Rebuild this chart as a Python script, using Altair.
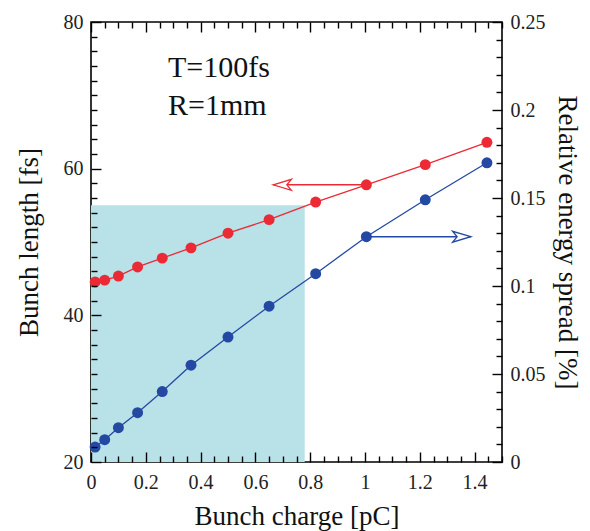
import altair as alt
import pandas as pd

# ---- data ----
charge_pc = [0.015, 0.05, 0.10, 0.17, 0.26, 0.365, 0.50, 0.65, 0.82, 1.005, 1.22, 1.445]
length_fs = [44.55, 44.8, 45.35, 46.6, 47.8, 49.2, 51.2, 53.05, 55.45, 57.8, 60.55, 63.6]
spread_pct = [0.0085, 0.0127, 0.0195, 0.028, 0.040, 0.055, 0.071, 0.0885, 0.107, 0.128, 0.149, 0.170]

shade_x = [0.0, 0.78]
shade_y = [20, 55]

red_arrow_x = [1.005, 0.665]
red_arrow_y = 57.8
blue_arrow_x = [1.005, 1.386]
blue_arrow_y = 0.128

note_labels = ["T=100fs", "R=1mm"]
note_x = [0.281, 0.281]
note_y = [73.7, 68.6]

x_major_ticks = [0, 0.2, 0.4, 0.6, 0.8, 1.0, 1.2, 1.4]
x_minor_ticks = [round(i * 0.05, 2) for i in range(31) if i % 4 != 0]
yl_major_ticks = [20, 40, 60, 80]
yl_minor_ticks = [v for v in range(22, 80, 2) if v % 20 != 0]
yr_major_ticks = [0, 0.05, 0.1, 0.15, 0.2, 0.25]
yr_minor_ticks = [round(i * 0.01, 2) for i in range(26) if i % 5 != 0]

RED = "#ec2a35"
BLUE = "#2449a2"
SHADE = "#b8e1e8"
FONT = "Liberation Serif"
MAJ, MIN = 10, 6

series = pd.DataFrame({"charge": charge_pc, "length": length_fs, "spread": spread_pct})
shade = pd.DataFrame({"x": [shade_x[0]], "x2": [shade_x[1]], "y": [shade_y[0]], "y2": [shade_y[1]]})
red_arrow = pd.DataFrame({"x": [red_arrow_x[0]], "x2": [red_arrow_x[1]], "y": [red_arrow_y]})
red_head = pd.DataFrame({"x": [red_arrow_x[1]], "y": [red_arrow_y]})
blue_arrow = pd.DataFrame({"x": [blue_arrow_x[0]], "x2": [blue_arrow_x[1]], "y": [blue_arrow_y]})
blue_head = pd.DataFrame({"x": [blue_arrow_x[1]], "y": [blue_arrow_y]})
notes = pd.DataFrame({"x": note_x, "y": note_y, "label": note_labels})

x_scale = alt.Scale(domain=[0, 1.5], nice=False, zero=False)
yl_scale = alt.Scale(domain=[20, 80], nice=False, zero=False)
yr_scale = alt.Scale(domain=[0, 0.25], nice=False, zero=False)


def common(color="black"):
    return dict(domain=False, grid=False, labelFlush=False, labelOverlap=False, zindex=1,
                ticks=True, tickColor=color, tickWidth=1.4, tickOpacity=1)


ax_bottom = alt.Axis(
    orient="bottom", values=x_major_ticks, tickSize=MAJ, offset=-MAJ, format="~g",
    labelPadding=10, title="Bunch charge [pC]", titleX=205.5, titleY=72,
    titleBaseline="alphabetic", titleAlign="center", **common(),
)
ax_bottom_minor = alt.Axis(
    orient="bottom", values=x_minor_ticks, tickSize=MIN, offset=-MIN,
    labels=False, title=None, **common(),
)
ax_top = alt.Axis(
    orient="top", values=x_major_ticks, tickSize=MAJ, offset=-MAJ,
    labels=False, title=None, **common(),
)
ax_top_minor = alt.Axis(
    orient="top", values=x_minor_ticks, tickSize=MIN, offset=-MIN,
    labels=False, title=None, **common(),
)
ax_left = alt.Axis(
    orient="left", values=yl_major_ticks, tickSize=MAJ, offset=-MAJ, format="d",
    labelPadding=8, title="Bunch length [fs]", titleX=-64, titleY=220, titleAngle=-90,
    titleBaseline="alphabetic", titleAlign="center", **common(),
)
ax_left_minor = alt.Axis(
    orient="left", values=yl_minor_ticks, tickSize=MIN, offset=-MIN,
    labels=False, title=None, **common(),
)
ax_right = alt.Axis(
    orient="right", values=yr_major_ticks, tickSize=MAJ, offset=-MAJ, format="~g",
    labelPadding=8, title="Relative energy spread [%]", titleX=66, titleY=220, titleAngle=90,
    titleBaseline="alphabetic", titleAlign="center", **common(),
)
ax_right_minor = alt.Axis(
    orient="right", values=yr_minor_ticks, tickSize=MIN, offset=-MIN,
    labels=False, title=None, **common(),
)


def enc_x(field, axis):
    return alt.X(f"{field}:Q", scale=x_scale, axis=axis)


def enc_yl(field, axis):
    return alt.Y(f"{field}:Q", scale=yl_scale, axis=axis)


def enc_yr(field, axis):
    return alt.Y(f"{field}:Q", scale=yr_scale, axis=axis)


def XL(f):
    return enc_x(f, ax_bottom)


def YL(f):
    return enc_yl(f, ax_left)


def XR(f):
    return enc_x(f, ax_top)


def YR(f):
    return enc_yr(f, ax_right)


# ---- group 1: bunch length (left / bottom axes) ----
shade_layer = alt.Chart(shade).mark_rect(color=SHADE, opacity=1).encode(
    x=XL("x"), x2="x2:Q", y=YL("y"), y2="y2:Q"
)
red_line = alt.Chart(series).mark_line(color=RED, strokeWidth=1.3).encode(
    x=XL("charge"), y=YL("length")
)
red_pts = alt.Chart(series).mark_circle(color=RED, size=120, opacity=1).encode(
    x=XL("charge"), y=YL("length")
)
red_arr = alt.Chart(red_arrow).mark_rule(color=RED, strokeWidth=1.5).encode(
    x=XL("x"), x2="x2:Q", y=YL("y")
)
red_hd = alt.Chart(red_head).mark_point(
    shape="M0,0L2,-0.6L1.5,0L2,0.6Z", size=330, filled=True,
    fill="white", stroke=RED, strokeWidth=1.3, opacity=1, fillOpacity=1,
).encode(x=XL("x"), y=YL("y"))
note_layer = alt.Chart(notes).mark_text(
    font=FONT, fontSize=30, align="left", baseline="middle", color="#111"
).encode(x=XL("x"), y=YL("y"), text="label:N")

g1 = alt.layer(shade_layer, red_line, red_pts, red_arr, red_hd, note_layer)

# ---- group 2: minor ticks bottom / left ----
g2 = alt.Chart(series).mark_point(opacity=0).encode(
    x=enc_x("charge", ax_bottom_minor), y=enc_yl("length", ax_left_minor)
)

# ---- group 3: energy spread (right / top axes) ----
blue_line = alt.Chart(series).mark_line(color=BLUE, strokeWidth=1.3).encode(
    x=XR("charge"), y=YR("spread")
)
blue_pts = alt.Chart(series).mark_circle(color=BLUE, size=120, opacity=1).encode(
    x=XR("charge"), y=YR("spread")
)
blue_arr = alt.Chart(blue_arrow).mark_rule(color=BLUE, strokeWidth=1.5).encode(
    x=XR("x"), x2="x2:Q", y=YR("y")
)
blue_hd = alt.Chart(blue_head).mark_point(
    shape="M0,0L-2,-0.6L-1.5,0L-2,0.6Z", size=330, filled=True,
    fill="white", stroke=BLUE, strokeWidth=1.3, opacity=1, fillOpacity=1,
).encode(x=XR("x"), y=YR("y"))

g3 = alt.layer(blue_line, blue_pts, blue_arr, blue_hd)

# ---- group 4: minor ticks top / right ----
g4 = alt.Chart(series).mark_point(opacity=0).encode(
    x=enc_x("charge", ax_top_minor), y=enc_yr("spread", ax_right_minor)
)

chart = (
    alt.layer(g1, g2, g3, g4)
    .resolve_scale(x="independent", y="independent")
    .properties(
        width=411, height=440,
        autosize=alt.AutoSizeParams(type="none"),
        padding={"left": 83, "top": 14, "right": 80, "bottom": 69},
        background="white",
    )
    .configure_view(stroke="black", strokeWidth=1.6)
    .configure_axis(
        labelFont=FONT, labelFontSize=20, labelColor="#222",
        titleFont=FONT, titleFontSize=27, titleFontWeight="normal", titleColor="#111",
    )
)

chart.save("out.html", embed_options={"renderer": "svg", "actions": False})
